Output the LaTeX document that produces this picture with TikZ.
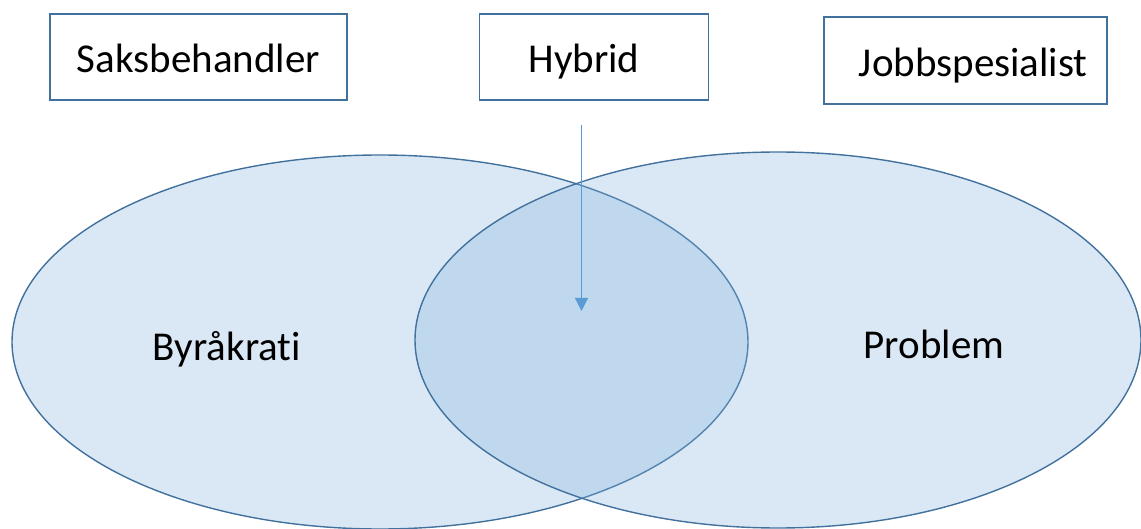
\documentclass[tikz,border=0pt]{standalone}
\usepackage{fontspec}
\setmainfont{Carlito}[Ligatures=NoCommon]
\usetikzlibrary{shapes.geometric, arrows.meta, positioning}
\definecolor{RoleBlue}{HTML}{41719C}
\definecolor{SetBlue}{HTML}{80B0DD}
\definecolor{ArrowBlue}{HTML}{5B9BD5}

\begin{document}
\begin{tikzpicture}[x=1pt, y=-1pt,
			every node/.style={font=\fontsize{41}{49}\selectfont, inner sep=0pt},
			role/.style={draw=RoleBlue, line width=1.4pt, fill=white, rectangle, minimum height=86pt, text height=36pt, text depth=4pt},
			setarea/.style={draw=RoleBlue, line width=1.4pt, ellipse, fill=SetBlue, fill opacity=.29, draw opacity=1}
		]
			\useasboundingbox (0,0) rectangle (1141,529);

			% the two sets
			\node (byraakrati) [setarea, minimum width=736pt, minimum height=374pt] at (380,342) {};
			\node (problem) [setarea, minimum width=726pt, minimum height=376pt] at (778,340) {};

			\node (byraakratiText) [anchor=base] at (227,360) {Byråkrati};
			\node (problemText) [anchor=base] at (934,359) {Problem};

			% roles
			\node (saks) [role, minimum width=297pt] at (198.5,57) {Saksbehandler};
			\node (hybrid) [role, minimum width=229pt, right=131pt of saks] {\hspace*{-20pt}Hybrid};
			\node (jobb) [role, minimum width=283pt, minimum height=87pt, right=114pt of hybrid, yshift=-3.5pt] {\hspace*{16pt}Jobbspesialist};

			\coordinate (pointer) at (581.5,125);
			\coordinate (overlap) at (581.5,311);
			\draw[ArrowBlue, line width=1.2pt, -{Triangle[width=13pt,length=13pt]}] (pointer) -- (overlap);
		\end{tikzpicture}
\end{document}
